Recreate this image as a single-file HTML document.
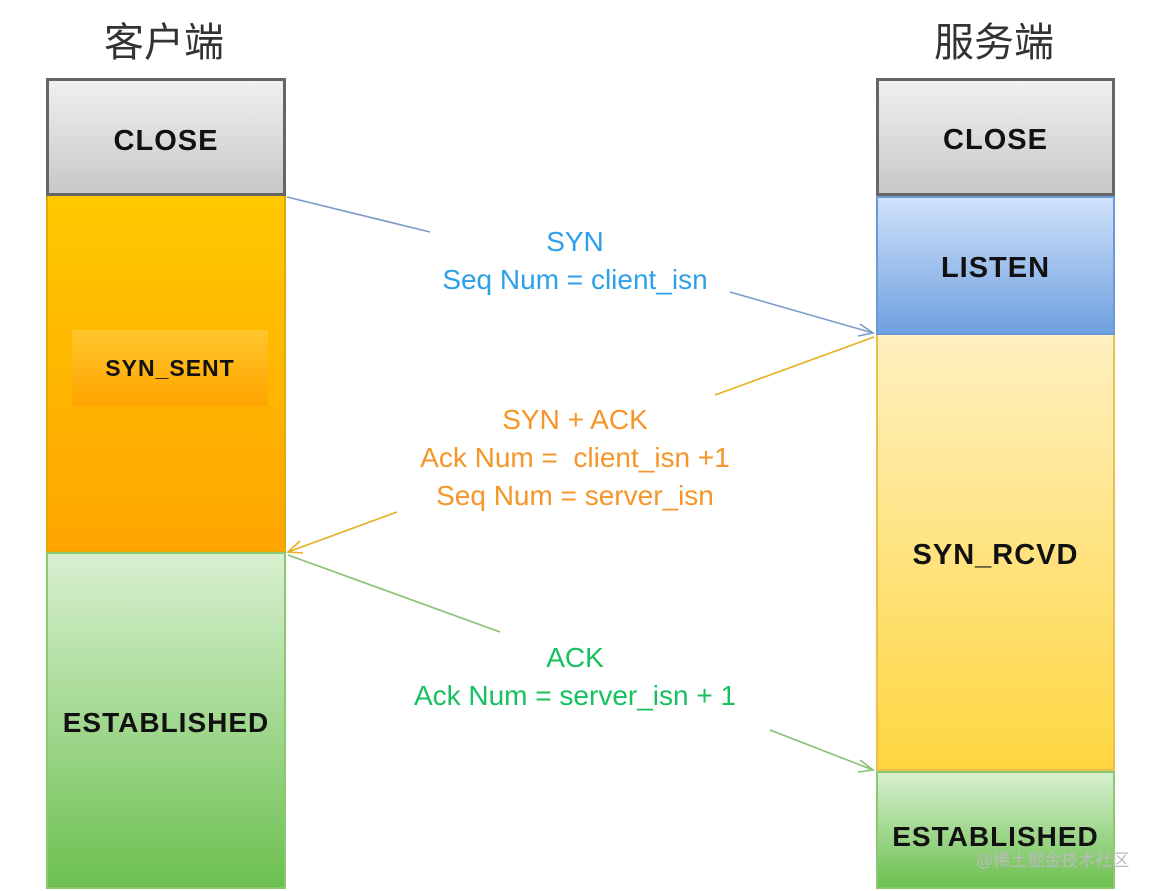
<!DOCTYPE html>
<html><head><meta charset="utf-8"><style>
body{margin:0;width:1160px;height:891px;background:#fff;overflow:hidden;position:relative;font-family:"Liberation Sans","Noto Sans CJK SC",sans-serif}
.b{position:absolute;box-sizing:border-box;display:flex;align-items:center;justify-content:center;font-weight:bold;color:#111;font-size:29px;letter-spacing:1px}
.t{position:absolute;text-align:center;font-size:28px;line-height:38px}
</style></head><body>
<div style="position:absolute;left:104px;top:10px;font-size:40px;color:#333">客户端</div>
<div style="position:absolute;left:934px;top:10px;font-size:40px;color:#333">服务端</div>

<div class="b" style="left:46px;top:78px;width:240px;height:118px;border:3px solid #666;background:linear-gradient(#f0f0f0,#c8c8c8);padding-top:8px">CLOSE</div>
<div class="b" style="left:46px;top:196px;width:240px;height:357px;border:2px solid #e5a800;border-top:none;background:linear-gradient(#ffc800,#ffa500)"></div>
<div class="b" style="left:72px;top:330px;width:196px;height:76px;background:linear-gradient(#ffc52a,#ffa500);font-size:23px">SYN_SENT</div>
<div class="b" style="left:46px;top:552px;width:240px;height:337px;border:2px solid #8cc870;background:linear-gradient(#d8f0d0,#6cc050);font-size:28px;padding-top:4px">ESTABLISHED</div>

<div class="b" style="left:876px;top:78px;width:239px;height:118px;border:3px solid #666;background:linear-gradient(#f0f0f0,#c8c8c8);padding-top:6px">CLOSE</div>
<div class="b" style="left:876px;top:196px;width:239px;height:139px;border:2px solid #6a9ad8;background:linear-gradient(#cfe2fa,#6fa0e0);padding-top:6px">LISTEN</div>
<div class="b" style="left:876px;top:335px;width:239px;height:436px;border:2px solid #e8c050;border-top:none;background:linear-gradient(#fff0c0,#ffd640);padding-top:6px">SYN_RCVD</div>
<div class="b" style="left:876px;top:771px;width:239px;height:118px;border:2px solid #8cc870;background:linear-gradient(#d8f0d0,#6cc050);font-size:28px;padding-top:14px">ESTABLISHED</div>
<div style="position:absolute;left:976px;top:846px;font-size:17px;color:#bbb">@稀土掘金技术社区</div>

<svg width="1160" height="891" style="position:absolute;left:0;top:0">
<g fill="none" stroke-width="1.6">
<path d="M287 197 L430 232 M730 292 L873 333" stroke="#7a9cc8"/>
<path d="M860 324 L873 333 L858 336" stroke="#7a9cc8"/>
<path d="M874 337 L715 395 M397 512 L288 552" stroke="#e8b020"/>
<path d="M300 541 L288 552 L303 553" stroke="#e8b020"/>
<path d="M288 555 L500 632 M770 730 L873 770" stroke="#88c070"/>
<path d="M860 760 L873 770 L858 772" stroke="#88c070"/>
</g></svg>

<div class="t" style="left:375px;width:400px;top:223px;color:#2ea0e8">SYN<br>Seq Num = client_isn</div>
<div class="t" style="left:375px;width:400px;top:401px;color:#f5962a">SYN + ACK<br>Ack Num =&nbsp; client_isn +1<br>Seq Num = server_isn</div>
<div class="t" style="left:375px;width:400px;top:639px;color:#18c060">ACK<br>Ack Num = server_isn + 1</div>
</body></html>
